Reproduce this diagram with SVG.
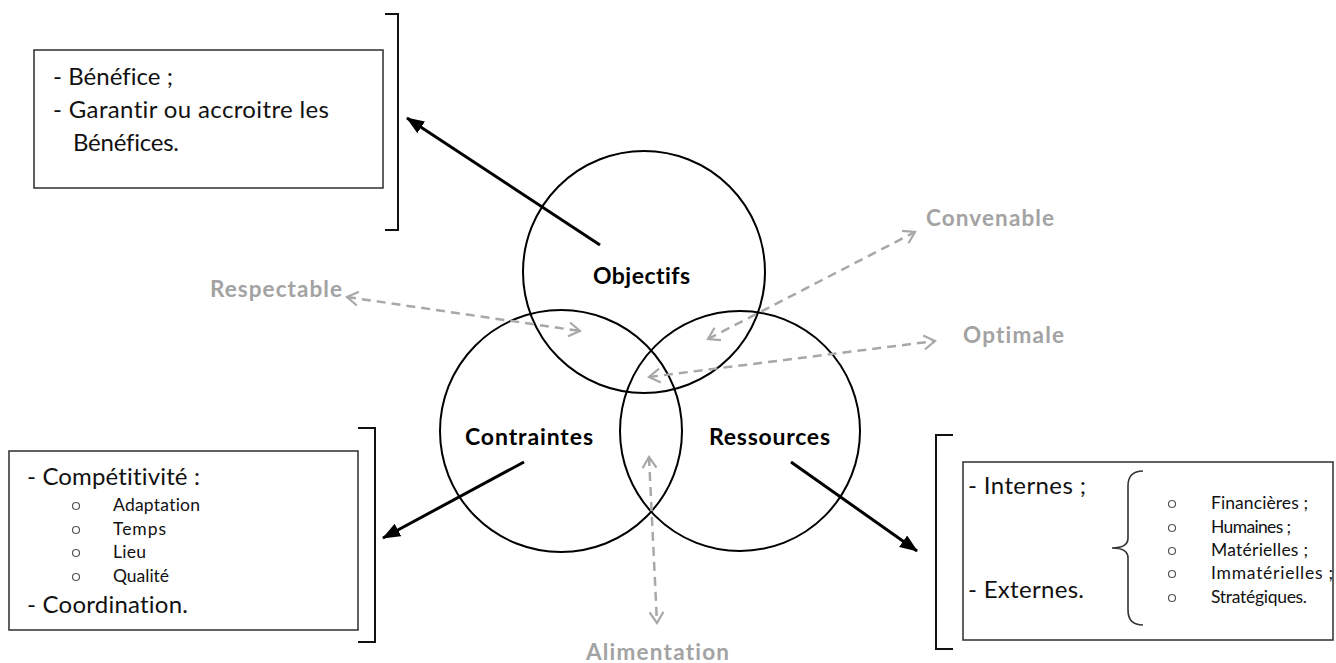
<svg xmlns="http://www.w3.org/2000/svg" width="1336" height="663" viewBox="0 0 1336 663">
<style>
text{font-variant-ligatures:none}
.box{fill:#fff;stroke:#3a3a3a;stroke-width:1.6}
.brk{fill:none;stroke:#111;stroke-width:2}
.circ{fill:none;stroke:#000;stroke-width:2}
.t{font-family:Lato,"Liberation Sans",Arial,sans-serif;fill:#111}
.big{font-size:24px}
.sm{font-size:17.5px}
.lbl{font-family:Lato,"Liberation Sans",Arial,sans-serif;font-weight:bold;font-size:23px;fill:#000}
.gl{font-family:Lato,"Liberation Sans",Arial,sans-serif;font-weight:bold;font-size:22.5px;fill:#a3a3a3}
.bul{fill:none;stroke:#555;stroke-width:1.2}
.arr{stroke:#000;stroke-width:3;fill:none;marker-end:url(#ah)}
.dash{stroke:#a8a8a8;stroke-width:2.5;fill:none;stroke-dasharray:9 6;marker-start:url(#ch);marker-end:url(#ch)}
</style>
<defs>
<marker id="ah" markerUnits="userSpaceOnUse" markerWidth="18" markerHeight="14" viewBox="0 0 18 14" refX="17" refY="7" orient="auto">
<path d="M0,0 L18,7 L0,14 z" fill="#000"/>
</marker>
<marker id="ch" markerUnits="userSpaceOnUse" markerWidth="14" markerHeight="16" viewBox="0 0 14 16" refX="12" refY="8" orient="auto-start-reverse">
<path d="M1,1 L12,8 L1,15" fill="none" stroke="#a8a8a8" stroke-width="2.2"/>
</marker>
</defs>

<g id="circle-objectifs">
<circle class="circ" cx="644" cy="272" r="121"/>
<text class="lbl" x="593" y="284" textLength="97">Objectifs</text>
</g>
<g id="circle-contraintes">
<circle class="circ" cx="561" cy="431" r="121"/>
<text class="lbl" x="465" y="445" textLength="128">Contraintes</text>
</g>
<g id="circle-ressources">
<circle class="circ" cx="740" cy="431" r="120"/>
<text class="lbl" x="709" y="445" textLength="121">Ressources</text>
</g>

<g id="box-objectifs">
<rect class="box" x="34" y="50" width="349" height="138"/>
<path class="brk" d="M385,14 H398 V230 H385"/>
<text class="t big" x="53" y="85" textLength="120">- Bénéfice ;</text>
<text class="t big" x="53" y="118" textLength="276">- Garantir ou accroitre  les</text>
<text class="t big" x="73" y="151" textLength="106">Bénéfices.</text>
</g>

<g id="box-contraintes">
<rect class="box" x="9" y="451" width="349" height="179"/>
<path class="brk" d="M358,428 H375 V642 H358"/>
<text class="t big" x="27" y="485" textLength="173">- Compétitivité :</text>
<circle class="bul" cx="76" cy="506" r="3.5"/>
<text class="t sm" x="113" y="511" textLength="87">Adaptation</text>
<circle class="bul" cx="76" cy="530" r="3.5"/>
<text class="t sm" x="113" y="535" textLength="53">Temps</text>
<circle class="bul" cx="76" cy="553" r="3.5"/>
<text class="t sm" x="113" y="558" textLength="33">Lieu</text>
<circle class="bul" cx="76" cy="577" r="3.5"/>
<text class="t sm" x="113" y="582" textLength="56">Qualité</text>
<text class="t big" x="27" y="613" textLength="161">- Coordination.</text>
</g>

<g id="box-ressources">
<rect class="box" x="963" y="462" width="370" height="178"/>
<path class="brk" d="M953,435 H936 V649 H953"/>
<text class="t big" x="968" y="494" textLength="118">- Internes ;</text>
<text class="t big" x="968" y="598" textLength="116">- Externes.</text>
<path fill="none" stroke="#333" stroke-width="1.6" d="M1143,471 Q1128,471 1128,486 V538 Q1128,548 1112,548 Q1128,548 1128,558 V610 Q1128,625 1143,625"/>
<circle class="bul" cx="1172" cy="504" r="3.5"/>
<text class="t sm" x="1211" y="509" textLength="97">Financières ;</text>
<circle class="bul" cx="1172" cy="528" r="3.5"/>
<text class="t sm" x="1211" y="533" textLength="80">Humaines ;</text>
<circle class="bul" cx="1172" cy="551" r="3.5"/>
<text class="t sm" x="1211" y="556" textLength="97">Matérielles ;</text>
<circle class="bul" cx="1172" cy="574" r="3.5"/>
<text class="t sm" x="1211" y="579" textLength="122">Immatérielles ;</text>
<circle class="bul" cx="1172" cy="598" r="3.5"/>
<text class="t sm" x="1211" y="603" textLength="96">Stratégiques.</text>
</g>

<g id="label-respectable"><text class="gl" x="210" y="297" textLength="132">Respectable</text></g>
<g id="label-convenable"><text class="gl" x="926" y="226" textLength="128">Convenable</text></g>
<g id="label-optimale"><text class="gl" x="963" y="343" textLength="101">Optimale</text></g>
<g id="label-alimentation"><text class="gl" x="586" y="660" textLength="143">Alimentation</text></g>

<g id="connectors">
<line class="arr" x1="600" y1="245" x2="407" y2="118"/>
<line class="arr" x1="524" y1="462" x2="383" y2="538"/>
<line class="arr" x1="791" y1="462" x2="917" y2="551"/>
<line class="dash" x1="347" y1="297" x2="580" y2="331"/>
<line class="dash" x1="708" y1="339" x2="915" y2="232"/>
<line class="dash" x1="649" y1="377" x2="935" y2="341"/>
<line class="dash" x1="649" y1="457" x2="657" y2="623"/>
</g>
</svg>
